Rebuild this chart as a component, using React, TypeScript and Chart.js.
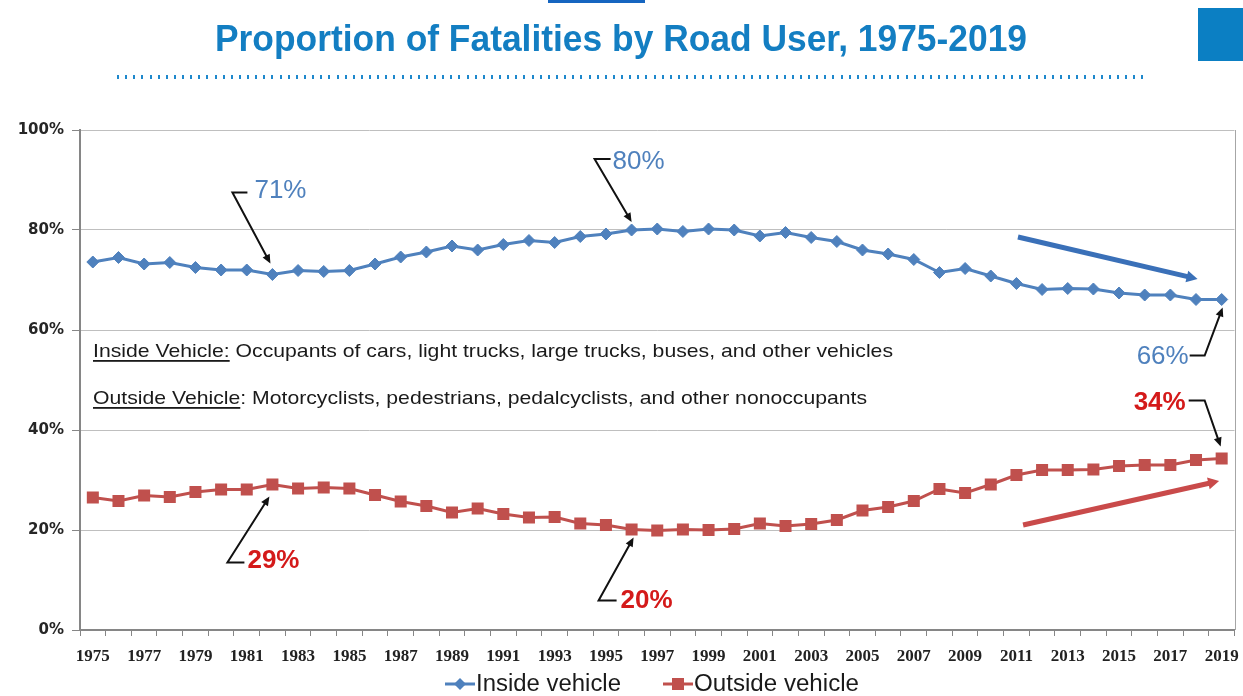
import React, { useEffect, useRef } from 'react';
import { Chart, registerables } from 'chart.js';

Chart.register(...registerables);

// ---------- data ----------
const YEARS = [
  '1975', '1976', '1977', '1978', '1979', '1980', '1981', '1982', '1983', '1984',
  '1985', '1986', '1987', '1988', '1989', '1990', '1991', '1992', '1993', '1994',
  '1995', '1996', '1997', '1998', '1999', '2000', '2001', '2002', '2003', '2004',
  '2005', '2006', '2007', '2008', '2009', '2010', '2011', '2012', '2013', '2014',
  '2015', '2016', '2017', '2018', '2019',
];

const INSIDE = [
  73.6, 74.5, 73.2, 73.5, 72.5, 72.0, 72.0, 71.1, 71.9, 71.7,
  71.9, 73.2, 74.6, 75.6, 76.8, 76.0, 77.1, 77.9, 77.5, 78.7,
  79.2, 80.0, 80.2, 79.7, 80.2, 80.0, 78.8, 79.5, 78.5, 77.7,
  76.0, 75.2, 74.1, 71.5, 72.3, 70.8, 69.3, 68.1, 68.3, 68.2,
  67.4, 67.0, 67.0, 66.1, 66.1,
];

const OUTSIDE = [
  26.5, 25.8, 26.9, 26.6, 27.6, 28.1, 28.1, 29.1, 28.3, 28.5,
  28.3, 27.0, 25.7, 24.8, 23.5, 24.3, 23.2, 22.5, 22.6, 21.3,
  21.0, 20.1, 19.9, 20.1, 20.0, 20.2, 21.3, 20.8, 21.2, 22.0,
  23.9, 24.6, 25.8, 28.2, 27.4, 29.1, 31.0, 32.0, 32.0, 32.1,
  32.8, 33.0, 33.0, 34.0, 34.3,
];

const Y_MIN = 0;
const Y_MAX = 100;
const Y_STEP = 20;

const TITLE = 'Proportion of Fatalities by Road User, 1975-2019';
const SERIES_NAMES = ['Inside vehicle', 'Outside vehicle'];
const DEFINITIONS = [
  ['Inside Vehicle:', ' Occupants of cars, light trucks, large trucks, buses, and other vehicles'],
  ['Outside Vehicle', ': Motorcyclists, pedestrians, pedalcyclists, and other nonoccupants'],
];

// callouts: which series / year they point to and the label text
const CALLOUT_SERIES = [0, 0, 0, 1, 1, 1];
const CALLOUT_YEARS = ['1982', '1996', '2019', '1982', '1996', '2019'];
const CALLOUT_LABELS = ['71%', '80%', '66%', '29%', '20%', '34%'];

// trend arrows: [startYearIndex, startValue, endYearIndex, endValue]
const TREND_INSIDE = [36.06, 78.6, 43.06, 70.2];
const TREND_OUTSIDE = [36.26, 21.0, 43.9, 29.8];

// ---------- styles ----------
const BLUE = '#4F81BD';
const RED = '#C0504D';
const LABEL_BLUE = '#4F81BD';
const LABEL_RED = '#D41A1A';
const TITLE_BLUE = '#137EC2';

// geometry of callouts relative to the data point (pixels)
const CALLOUT_GEOM = [
  { tip: [-2, -11], corner: [-40, -82], hEnd: [-25, -82], text: [-18, -84], align: 'left' },
  { tip: [0, -8], corner: [-37, -71], hEnd: [-21, -71], text: [-19, -68], align: 'left' },
  { tip: [1, 8], corner: [-17, 56], hEnd: [-32, 56], text: [-33, 57], align: 'right' },
  { tip: [-3, 12], corner: [-45, 78], hEnd: [-28, 78], text: [-25, 76], align: 'left' },
  { tip: [2, 8], corner: [-33, 71], hEnd: [-15, 71], text: [-11, 71], align: 'left' },
  { tip: [-1, -12], corner: [-17, -58], hEnd: [-33, -58], text: [-36, -56], align: 'right' },
];

function drawFitted(
  ctx: CanvasRenderingContext2D,
  text: string,
  x: number,
  y: number,
  font: string,
  targetWidth: number,
  align: 'left' | 'center' | 'right',
  color: string,
) {
  ctx.save();
  ctx.font = font;
  const w = ctx.measureText(text).width;
  const s = targetWidth / w;
  ctx.translate(x, y);
  ctx.scale(s, 1);
  ctx.textAlign = align;
  ctx.fillStyle = color;
  ctx.fillText(text, 0, 0);
  ctx.restore();
}

function arrowHead(ctx: CanvasRenderingContext2D, fx: number, fy: number, tx: number, ty: number, len: number, half: number, color: string) {
  const a = Math.atan2(ty - fy, tx - fx);
  ctx.save();
  ctx.fillStyle = color;
  ctx.beginPath();
  ctx.moveTo(tx, ty);
  ctx.lineTo(tx - len * Math.cos(a) + half * Math.sin(a), ty - len * Math.sin(a) - half * Math.cos(a));
  ctx.lineTo(tx - len * Math.cos(a) - half * Math.sin(a), ty - len * Math.sin(a) + half * Math.cos(a));
  ctx.closePath();
  ctx.fill();
  ctx.restore();
}

const overlayPlugin = {
  id: 'overlay',
  afterDraw(chart: any) {
    const ctx: CanvasRenderingContext2D = chart.ctx;
    const xs = chart.scales.x;
    const ys = chart.scales.y;
    const area = chart.chartArea;

    ctx.save();

    // top decorations
    ctx.fillStyle = '#1565C0';
    ctx.fillRect(548, 0, 97, 3);
    ctx.fillStyle = '#0B7FC3';
    ctx.fillRect(1198, 8, 45, 53);

    // title
    drawFitted(ctx, TITLE, 621, 51, 'bold 37px "Liberation Sans", Arial, sans-serif', 812, 'center', TITLE_BLUE);

    // dotted rule
    ctx.fillStyle = '#1E88CC';
    for (let x = 117; x <= 1142; x += 8.13) {
      ctx.fillRect(Math.round(x), 75, 2, 4);
    }

    // right border of plot
    ctx.strokeStyle = '#A6A6A6';
    ctx.lineWidth = 1;
    ctx.beginPath();
    ctx.moveTo(Math.round(area.right) + 0.5, area.top);
    ctx.lineTo(Math.round(area.right) + 0.5, area.bottom);
    ctx.stroke();

    // definitions
    const defFont = '19px "Liberation Sans", Arial, sans-serif';
    ctx.font = defFont;
    const full1 = DEFINITIONS[0][0] + DEFINITIONS[0][1];
    const sc = 800 / ctx.measureText(full1).width;
    const defY = [357, 404];
    DEFINITIONS.forEach((parts, i) => {
      ctx.save();
      ctx.translate(93, defY[i]);
      ctx.scale(sc, 1);
      ctx.font = defFont;
      ctx.fillStyle = '#1A1A1A';
      ctx.textAlign = 'left';
      const w0 = ctx.measureText(parts[0]).width;
      ctx.fillText(parts[0], 0, 0);
      ctx.fillText(parts[1], w0, 0);
      ctx.fillRect(0, 3, w0, 1.8);
      ctx.restore();
    });

    // callouts
    CALLOUT_LABELS.forEach((lab, i) => {
      const s = CALLOUT_SERIES[i];
      const idx = YEARS.indexOf(CALLOUT_YEARS[i]);
      const v = (s === 0 ? INSIDE : OUTSIDE)[idx];
      const px = xs.getPixelForValue(idx);
      const py = ys.getPixelForValue(v);
      const g = CALLOUT_GEOM[i];
      const tipX = px + g.tip[0], tipY = py + g.tip[1];
      const cX = px + g.corner[0], cY = py + g.corner[1];
      const hX = px + g.hEnd[0], hY = py + g.hEnd[1];
      ctx.strokeStyle = '#111';
      ctx.lineWidth = 2;
      ctx.beginPath();
      ctx.moveTo(hX, hY);
      ctx.lineTo(cX, cY);
      const a = Math.atan2(tipY - cY, tipX - cX);
      ctx.lineTo(tipX - 6 * Math.cos(a), tipY - 6 * Math.sin(a));
      ctx.stroke();
      arrowHead(ctx, cX, cY, tipX, tipY, 9, 4, '#111');

      ctx.font = (s === 0 ? '' : 'bold ') + '26px "Liberation Sans", Arial, sans-serif';
      ctx.fillStyle = s === 0 ? LABEL_BLUE : LABEL_RED;
      ctx.textAlign = g.align as CanvasTextAlign;
      ctx.textBaseline = 'middle';
      ctx.fillText(lab, px + g.text[0], py + g.text[1]);
    });
    ctx.textBaseline = 'alphabetic';

    // trend arrows
    const trend = (t: number[], color: string) => {
      const x1 = xs.getPixelForValue(t[0]);
      const y1 = ys.getPixelForValue(t[1]);
      const x2 = xs.getPixelForValue(t[2]);
      const y2 = ys.getPixelForValue(t[3]);
      const a = Math.atan2(y2 - y1, x2 - x1);
      ctx.strokeStyle = color;
      ctx.lineWidth = 5;
      ctx.lineCap = 'butt';
      ctx.beginPath();
      ctx.moveTo(x1, y1);
      ctx.lineTo(x2 - 8 * Math.cos(a), y2 - 8 * Math.sin(a));
      ctx.stroke();
      arrowHead(ctx, x1, y1, x2, y2, 11, 6, color);
    };
    trend(TREND_INSIDE, '#3A70B8');
    trend(TREND_OUTSIDE, '#C94A4A');

    // legend
    const legY = 684;
    const legFont = '23px "Liberation Sans", Arial, sans-serif';
    const items = [
      { x: 445, color: BLUE, style: 'diamond', text: SERIES_NAMES[0], w: 145 },
      { x: 663, color: RED, style: 'square', text: SERIES_NAMES[1], w: 165 },
    ];
    items.forEach((it) => {
      ctx.strokeStyle = it.color;
      ctx.lineWidth = 3;
      ctx.beginPath();
      ctx.moveTo(it.x, legY);
      ctx.lineTo(it.x + 30, legY);
      ctx.stroke();
      ctx.fillStyle = it.color;
      const cx = it.x + 15;
      if (it.style === 'diamond') {
        ctx.beginPath();
        ctx.moveTo(cx, legY - 6);
        ctx.lineTo(cx + 6, legY);
        ctx.lineTo(cx, legY + 6);
        ctx.lineTo(cx - 6, legY);
        ctx.closePath();
        ctx.fill();
      } else {
        ctx.fillRect(cx - 6, legY - 6, 12, 12);
      }
      ctx.textBaseline = 'middle';
      drawFitted(ctx, it.text, it.x + 31, legY + 1, legFont, it.w, 'left', '#1A1A1A');
    });

    ctx.restore();
  },
};

export default function App() {
  const ref = useRef<HTMLCanvasElement>(null);

  useEffect(() => {
    if (!ref.current) return;
    const chart = new Chart(ref.current, {
      type: 'line',
      data: {
        labels: YEARS,
        datasets: [
          {
            label: SERIES_NAMES[0],
            data: INSIDE,
            borderColor: BLUE,
            backgroundColor: BLUE,
            borderWidth: 3,
            pointStyle: 'rectRot',
            pointRadius: 6,
            pointBackgroundColor: BLUE,
            pointBorderColor: BLUE,
            pointBorderWidth: 1,
            tension: 0,
          },
          {
            label: SERIES_NAMES[1],
            data: OUTSIDE,
            borderColor: RED,
            backgroundColor: RED,
            borderWidth: 3,
            pointStyle: 'rect',
            pointRadius: 8.5,
            pointBackgroundColor: RED,
            pointBorderColor: RED,
            pointBorderWidth: 0,
            tension: 0,
          },
        ],
      },
      options: {
        responsive: false,
        animation: false,
        devicePixelRatio: 1,
        layout: { padding: { top: 130, right: 6, left: 0, bottom: 0 } },
        plugins: {
          legend: { display: false },
          title: { display: false },
          tooltip: { enabled: false },
        },
        scales: {
          x: {
            type: 'category',
            offset: true,
            afterFit: (axis: any) => {
              axis.height = 66;
              axis.paddingLeft = 0;
              axis.paddingRight = 0;
            },
            border: { display: true, color: '#868686', width: 2 },
            grid: {
              display: true,
              offset: true,
              drawOnChartArea: false,
              drawTicks: true,
              tickLength: 6,
              color: '#868686',
              tickColor: '#868686',
              lineWidth: 1,
            },
            ticks: {
              autoSkip: false,
              maxRotation: 0,
              minRotation: 0,
              padding: 10,
              color: '#222',
              font: { family: '"Liberation Serif", "Times New Roman", serif', weight: 'bold', size: 17 },
              callback: (_v: any, i: number) => (i % 2 === 0 ? YEARS[i] : ''),
            },
          },
          y: {
            min: Y_MIN,
            max: Y_MAX,
            afterFit: (axis: any) => {
              axis.width = 80;
              axis.paddingTop = 0;
              axis.paddingBottom = 0;
            },
            border: { display: true, color: '#868686', width: 2 },
            grid: {
              color: '#BFBFBF',
              lineWidth: 1,
              tickLength: 8,
              tickColor: '#868686',
            },
            ticks: {
              stepSize: Y_STEP,
              padding: 8,
              color: '#262626',
              font: { family: '"DejaVu Sans", Verdana, sans-serif', weight: 'bold', size: 15 },
              callback: (v: any) => `${v}%`,
            },
          },
        },
      },
      plugins: [overlayPlugin],
    } as any);
    return () => chart.destroy();
  }, []);

  return (
    <div style={{ position: 'absolute', left: 0, top: 0, width: 1243, height: 696, background: '#fff' }}>
      <canvas ref={ref} width={1243} height={696} style={{ display: 'block', width: 1243, height: 696 }} />
    </div>
  );
}
